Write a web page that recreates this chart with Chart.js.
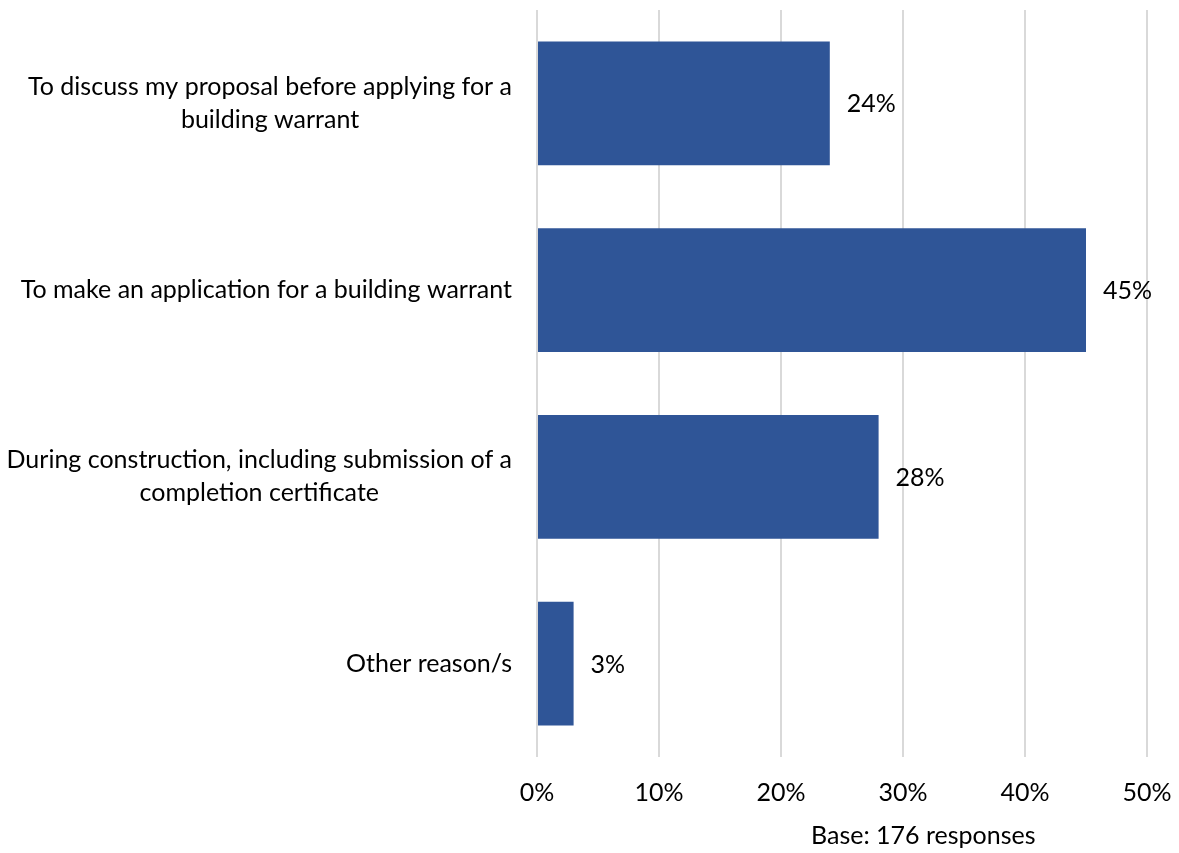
<!DOCTYPE html>
<html>
<head>
<meta charset="utf-8">
<script src="https://cdn.jsdelivr.net/npm/chart.js@4.4.1/dist/chart.umd.min.js"></script>
<style>
  html, body { margin: 0; padding: 0; background: #fff; }
  #wrap { position: relative; width: 1179px; height: 853px; }
  #base {
    position: absolute; left: 811px; top: 819px;
    font: 25px Lato, "Open Sans", sans-serif; color: #000; white-space: nowrap;
  }
</style>
</head>
<body>
<div id="wrap">
  <canvas id="reasonChart" width="1179" height="853"></canvas>
  <div id="base">Base: 176 responses</div>
</div>
<script>
const reasons = [
    ['To discuss my proposal before applying for a', 'building warrant'],
    ['To make an application for a building warrant'],
    ['During construction, including submission of a', 'completion certificate'],
    ['Other reason/s']
];
const percentages = [24, 45, 28, 3];
const xTicks = [0, 10, 20, 30, 40, 50];

const barColor = '#2F5597';
const gridColor = '#D9D9D9';
const fontFamily = 'Lato, "Open Sans", sans-serif';
const font = '25px ' + fontFamily;
const lineGap = 33;

Chart.defaults.color = '#000';
Chart.defaults.font.family = fontFamily;
Chart.defaults.font.size = 25;

// category labels: block right-aligned to the axis, lines centred within the block
const categoryLabels = {
    id: 'categoryLabels',
    afterDraw(chart) {
        const ctx = chart.ctx;
        const yScale = chart.scales.y;
        const right = yScale.right - 25;
        ctx.save();
        ctx.font = font;
        ctx.fillStyle = '#000';
        ctx.textAlign = 'center';
        ctx.textBaseline = 'middle';
        reasons.forEach((lines, i) => {
            const widest = Math.max(...lines.map(l => ctx.measureText(l).width));
            const cx = right - widest / 2;
            const cy = yScale.getPixelForTick(i);
            const top = cy - (lines.length - 1) * lineGap / 2;
            lines.forEach((l, j) => ctx.fillText(l, cx, top + j * lineGap));
        });
        ctx.restore();
    }
};

// value labels just past the end of each bar
const valueLabels = {
    id: 'valueLabels',
    afterDatasetsDraw(chart) {
        const ctx = chart.ctx;
        const meta = chart.getDatasetMeta(0);
        ctx.save();
        ctx.font = font;
        ctx.fillStyle = '#000';
        ctx.textAlign = 'left';
        ctx.textBaseline = 'middle';
        meta.data.forEach((bar, i) => {
            ctx.fillText(percentages[i] + '%', bar.x + 17, bar.y + 1);
        });
        ctx.restore();
    }
};

new Chart(document.getElementById('reasonChart'), {
    type: 'bar',
    data: {
        labels: reasons,
        datasets: [{
            data: percentages,
            backgroundColor: barColor,
            categoryPercentage: 1,
            barPercentage: 0.663
        }]
    },
    options: {
        indexAxis: 'y',
        responsive: false,
        animation: false,
        layout: { padding: { top: 10, right: 32, left: 0, bottom: 0 } },
        plugins: { legend: { display: false }, tooltip: { enabled: false } },
        scales: {
            x: {
                min: 0,
                max: 50,
                afterBuildTicks: axis => { axis.ticks = xTicks.map(v => ({ value: v })); },
                afterFit: axis => {
                    axis.height = 96;
                    axis.paddingLeft = 0;
                    axis.paddingRight = 0;
                },
                grid: { color: gridColor, lineWidth: 2, drawTicks: false },
                border: { display: false },
                ticks: { padding: 21, callback: v => v + '%' }
            },
            y: {
                afterFit: axis => {
                    axis.width = 537;
                    axis.paddingTop = 0;
                    axis.paddingBottom = 0;
                },
                grid: { display: false, drawTicks: false },
                border: { display: false },
                ticks: { display: false }
            }
        }
    },
    plugins: [valueLabels, categoryLabels]
});
</script>
</body>
</html>
